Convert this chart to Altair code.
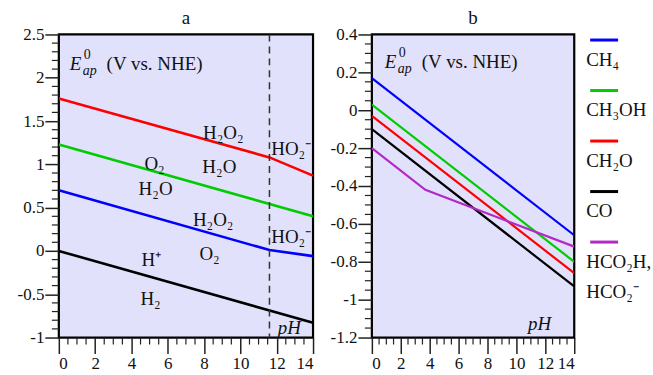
import altair as alt
import pandas as pd

FONT = "Liberation Serif"

# ---- panel a: water / oxygen / hydrogen couples ----
ph_red, e_red = [0, 11.6, 14], [1.76, 1.08, 0.87]        # O2/H2O2 -> HO2-
ph_green, e_green = [0, 14], [1.23, 0.40]                # O2/H2O
ph_blue, e_blue = [0, 11.6, 14], [0.70, 0.01, -0.06]     # H2O2/H2O -> HO2-
ph_black, e_black = [0, 14], [0.0, -0.83]                # H+/H2
pka_ho2 = [11.6]

labels_a = ["H₂O₂", "HO₂⁻", "O₂", "H₂O", "H₂O", "H₂O₂", "HO₂⁻", "H⁺", "O₂", "H₂"]
labels_a_ph = [9.06, 12.8, 5.27, 8.84, 5.33, 8.5, 12.8, 5.1, 8.3, 5.05]
labels_a_e = [1.36, 1.18, 1.00, 0.97, 0.72, 0.36, 0.16, -0.10, -0.04, -0.56]

# ---- panel b: CO2 reduction products ----
product_names = ["CH₄", "CH₃OH", "CH₂O", "CO", "HCO₂H,\nHCO₂⁻"]
product_colors = ["#0000ff", "#00cc00", "#ff0000", "#000000", "#b428c8"]
ph_ch4, e_ch4 = [0, 14], [0.17, -0.66]
ph_ch3oh, e_ch3oh = [0, 14], [0.03, -0.80]
ph_ch2o, e_ch2o = [0, 14], [-0.03, -0.86]
ph_co, e_co = [0, 14], [-0.10, -0.93]
ph_hcooh, e_hcooh = [0, 3.7, 14], [-0.20, -0.42, -0.72]

# axis ticks
x_ticks = [0, 2, 4, 6, 8, 10, 12, 14]
x_minor = [v / 2 for v in range(1, 28) if v % 4]
ya_ticks = [-1, -0.5, 0, 0.5, 1, 1.5, 2, 2.5]
ya_minor = [round(-1 + v / 10, 2) for v in range(1, 35) if v % 5]
yb_ticks = [-1.2, -1, -0.8, -0.6, -0.4, -0.2, 0, 0.2, 0.4]
yb_minor = [round(-1.2 + v / 20, 3) for v in range(1, 32) if v % 4]

# E_ap^0 heading anchors (pH, E)
head_a = (0.6, 2.09)
head_b = (0.9, 0.225)
ph_label_a = (12.7, -0.895)
ph_label_b = (11.6, -1.13)

W_A, W_B, H = 255, 203, 304


def series_frame(names, phs, es):
    rows = []
    for name, xs, ys in zip(names, phs, es):
        for i, (x, y) in enumerate(zip(xs, ys)):
            rows.append({"series": name, "pH": x, "E": y, "k": i})
    return pd.DataFrame(rows)


def make_x():
    return alt.Axis(values=x_ticks, tickSize=16, tickColor="#222", tickWidth=1.5,
                    labelFont=FONT, labelFontSize=17, labelColor="#111",
                    labelPadding=2, domain=False, grid=False, title=None,
                    labelExpr="'' + datum.value")


def make_y(vals):
    return alt.Axis(values=vals, tickSize=14, tickColor="#222", tickWidth=1.5,
                    labelFont=FONT, labelFontSize=17, labelColor="#111",
                    labelPadding=1, domain=False, grid=False, title=None,
                    labelExpr="'' + datum.value")


def panel(lines_df, colors, y_dom, y_ticks, y_minor, labels_df, head, ph_pos, stroke_w):
    xs = alt.Scale(domain=[0, 14], nice=False, zero=False)
    ys = alt.Scale(domain=y_dom, nice=False, zero=False)
    xax, yax = make_x(), make_y(y_ticks)

    def X(f):
        return alt.X(f"{f}:Q", scale=xs, axis=xax)

    def Y(f):
        return alt.Y(f"{f}:Q", scale=ys, axis=yax)

    layers = []
    layers.append(alt.Chart(lines_df).mark_line(strokeWidth=stroke_w, clip=True).encode(
        x=X("pH"), y=Y("E"),
        color=alt.Color("series:N", scale=alt.Scale(domain=list(colors.keys()),
                                                   range=list(colors.values())), legend=None),
        order="k:Q"))
    # minor ticks
    layers.append(alt.Chart(pd.DataFrame({"v": y_minor})).mark_rule(
        color="#222", strokeWidth=1.2).encode(y=Y("v"), x=alt.value(-7), x2=alt.value(0)))
    layers.append(alt.Chart(pd.DataFrame({"v": x_minor})).mark_rule(
        color="#222", strokeWidth=1.2).encode(x=X("v"), y=alt.value(H), y2=alt.value(H + 7)))
    if labels_df is not None:
        layers.append(alt.Chart(labels_df).mark_text(
            font=FONT, fontSize=19, color="#111", baseline="middle").encode(
            x=X("pH"), y=Y("E"), text="text:N"))
    hd = pd.DataFrame({"pH": [head[0]], "E": [head[1]]})
    pieces = [("E", 0, 0, 19, "italic"), ("ap", 13, 5, 14, "italic"),
              ("0", 14, -11, 14, "normal"), ("(V vs. NHE)", 37, 0, 19, "normal")]
    for txt, dx, dy, fs, st in pieces:
        layers.append(alt.Chart(hd).mark_text(
            text=txt, font=FONT, fontSize=fs, fontStyle=st, align="left",
            baseline="alphabetic", dx=dx, dy=dy, color="#111").encode(x=X("pH"), y=Y("E")))
    pp = pd.DataFrame({"pH": [ph_pos[0]], "E": [ph_pos[1]]})
    layers.append(alt.Chart(pp).mark_text(
        text="pH", font=FONT, fontSize=19, fontStyle="italic", color="#111",
        baseline="middle").encode(x=X("pH"), y=Y("E")))
    return layers, X, Y


# ---- build panel a ----
colors_a = {"red": "#ff0000", "green": "#00cc00", "blue": "#0000ff", "black": "#000000"}
lines_a = series_frame(list(colors_a.keys()),
                       [ph_red, ph_green, ph_blue, ph_black],
                       [e_red, e_green, e_blue, e_black])
lab_a = pd.DataFrame({"text": labels_a, "pH": labels_a_ph, "E": labels_a_e})
layers_a, XA, YA = panel(lines_a, colors_a, [-1, 2.5], ya_ticks, ya_minor, lab_a,
                         head_a, ph_label_a, 2.6)
layers_a.append(alt.Chart(pd.DataFrame({"pH": pka_ho2})).mark_rule(
    color="#333", strokeDash=[7, 5], strokeWidth=1.5).encode(x=XA("pH")))
chart_a = alt.layer(*layers_a).properties(
    width=W_A, height=H,
    title=alt.Title("a", font=FONT, fontSize=19, fontWeight="normal", offset=-3, color="#111"))

# ---- build panel b ----
colors_b = dict(zip(product_names, product_colors))
lines_b = series_frame(product_names,
                       [ph_ch4, ph_ch3oh, ph_ch2o, ph_co, ph_hcooh],
                       [e_ch4, e_ch3oh, e_ch2o, e_co, e_hcooh])
layers_b, XB, YB = panel(lines_b, colors_b, [-1.2, 0.4], yb_ticks, yb_minor, None,
                         head_b, ph_label_b, 2.2)
plot_b = alt.layer(*layers_b)

# legend: sample line with the product name underneath
leg = pd.DataFrame({"name": product_names, "row": list(range(len(product_names)))})
leg_y = alt.Y("row:Q", scale=alt.Scale(domain=[-0.11, 5.89], reverse=True, nice=False, zero=False),
              axis=None)
leg_color = alt.Color("name:N", scale=alt.Scale(domain=product_names, range=product_colors),
                      legend=None)
leg_lines = alt.Chart(leg).mark_rule(strokeWidth=3).encode(
    y=leg_y, x=alt.value(W_B + 16), x2=alt.value(W_B + 44), color=leg_color)
leg_text = alt.Chart(leg).mark_text(
    font=FONT, fontSize=19, color="#111", align="left", baseline="top", dy=11,
    lineBreak="\n", lineHeight=30).encode(y=leg_y, x=alt.value(W_B + 12), text="name:N")
legend_layer = alt.layer(leg_lines, leg_text)

chart_b = alt.layer(plot_b, legend_layer).resolve_scale(y="independent", color="independent").properties(
    width=W_B, height=H,
    title=alt.Title("b", font=FONT, fontSize=19, fontWeight="normal", offset=-3, color="#111"))

chart = alt.hconcat(chart_a, chart_b, spacing=13).properties(
    padding={"left": 15, "top": 7, "right": 0, "bottom": 0}
).configure_view(
    stroke="#000", strokeWidth=2.2, fill="#e1e1fb"
).configure_axis(
    labelFont=FONT
).configure_text(
    font=FONT
)

chart.save("out.html", embed_options={"renderer": "svg", "actions": False})
